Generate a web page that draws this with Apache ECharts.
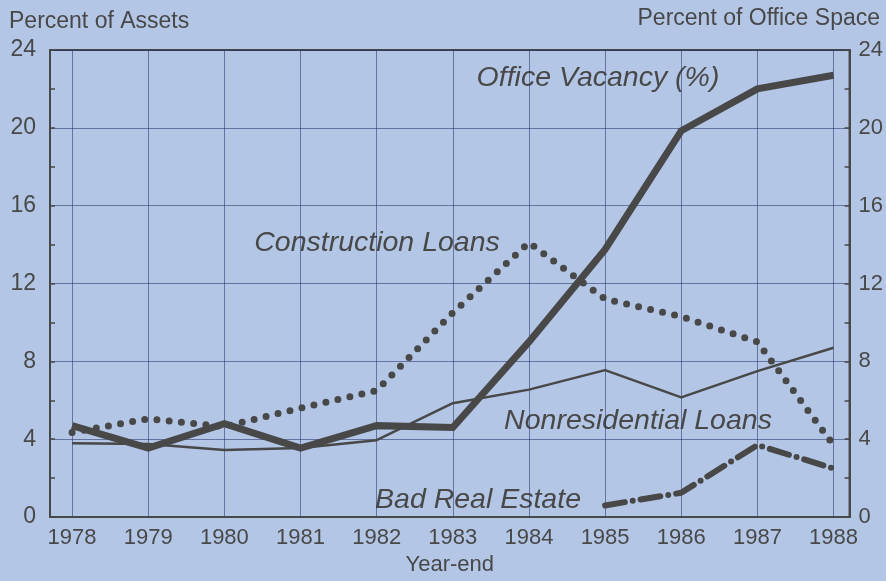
<!DOCTYPE html>
<html>
<head>
<meta charset="utf-8">
<script src="https://cdn.jsdelivr.net/npm/echarts@6/dist/echarts.min.js"></script>
<style>
html,body{margin:0;padding:0;background:#b3c6e5;}
#c{width:886px;height:581px;}
</style>
</head>
<body>
<div id="c"></div>
<script>
const years = [1978, 1979, 1980, 1981, 1982, 1983, 1984, 1985, 1986, 1987, 1988];
const officeVacancy = [4.7, 3.55, 4.8, 3.55, 4.7, 4.6, 9.0, 13.75, 19.85, 22.0, 22.7];
const constructionLoans = [4.35, 5.05, 4.65, 5.6, 6.5, 10.5, 14.1, 11.2, 10.3, 9.0, 3.7];
const nonresidentialLoans = [3.8, 3.75, 3.45, 3.55, 3.95, 5.85, 6.55, 7.55, 6.15, 7.5, 8.7];
const badRealEstate = [null, null, null, null, null, null, null, 0.6, 1.25, 3.7, 2.5];

const ink = '#484848';
const gridCol = 'rgba(35,50,105,0.55)';
const font = '"Liberation Sans", Arial, sans-serif';

function pairs(arr) {
  const out = [];
  years.forEach((y, i) => { if (arr[i] !== null) out.push([y, arr[i]]); });
  return out;
}

const chart = echarts.init(document.getElementById('c'));
chart.setOption({
  backgroundColor: '#b3c6e5',
  animation: false,
  grid: { left: 50, right: 36, top: 50, bottom: 58, show: true, borderColor: ink, borderWidth: 2, backgroundColor: 'transparent' },
  xAxis: {
    type: 'value', min: 1977.71, max: 1988.21,
    name: 'Year-end', nameLocation: 'middle', nameGap: 35,
    nameTextStyle: { color: ink, fontSize: 22, fontFamily: font },
    axisLine: { show: true, lineStyle: { color: ink, width: 2 } },
    axisTick: { show: false, customValues: years },
    axisLabel: { customValues: years, color: ink, fontSize: 22, fontFamily: font, margin: 10, formatter: v => String(v) },
    splitLine: { show: true, lineStyle: { color: gridCol, width: 1 } }
  },
  yAxis: [
    {
      type: 'value', min: 0, max: 24, interval: 4, position: 'left',
      axisLine: { show: true, lineStyle: { color: ink, width: 2 } },
      axisTick: { show: true, inside: true, length: 5, lineStyle: { color: ink, width: 1.5 } },
      minorTick: { show: true, splitNumber: 2, length: 5, lineStyle: { color: ink, width: 1.5 } },
      axisLabel: { color: ink, fontSize: 23, fontFamily: font, margin: 14 },
      splitLine: { show: true, lineStyle: { color: gridCol, width: 1 } }
    },
    {
      type: 'value', min: 0, max: 24, interval: 4, position: 'right',
      axisLine: { show: true, lineStyle: { color: ink, width: 2 } },
      axisTick: { show: true, inside: true, length: 5, lineStyle: { color: ink, width: 1.5 } },
      minorTick: { show: true, splitNumber: 2, length: 5, lineStyle: { color: ink, width: 1.5 } },
      axisLabel: { color: ink, fontSize: 22, fontFamily: font, margin: 9 },
      splitLine: { show: false }
    }
  ],
  series: [
    {
      name: 'Nonresidential Loans', type: 'line', data: pairs(nonresidentialLoans),
      symbol: 'none', lineStyle: { color: ink, width: 2.5 }, z: 2
    },
    {
      name: 'Construction Loans', type: 'line', data: pairs(constructionLoans),
      symbol: 'none', lineStyle: { color: ink, width: 7, type: [0, 12.3], cap: 'round' }, z: 3
    },
    {
      name: 'Bad Real Estate', type: 'line', data: pairs(badRealEstate),
      symbol: 'none', lineStyle: { color: ink, width: 6, type: [20, 8, 0, 8], cap: 'round' }, z: 3
    },
    {
      name: 'Office Vacancy (%)', type: 'line', yAxisIndex: 1, data: pairs(officeVacancy),
      symbol: 'none', lineStyle: { color: ink, width: 7, join: 'miter' }, z: 4
    }
  ],
  graphic: [
    { type: 'text', left: 9, top: 10, style: { text: 'Percent of Assets', fill: ink, font: '23px ' + font } },
    { type: 'text', right: 6, top: 7, style: { text: 'Percent of Office Space', fill: ink, font: '23px ' + font } },
    { type: 'text', x: 598, y: 78, style: { text: 'Office Vacancy (%)', fill: ink, font: 'italic 28.5px ' + font, align: 'center', verticalAlign: 'middle' } },
    { type: 'text', x: 377, y: 243, style: { text: 'Construction Loans', fill: ink, font: 'italic 28.5px ' + font, align: 'center', verticalAlign: 'middle' } },
    { type: 'text', x: 638, y: 421, style: { text: 'Nonresidential Loans', fill: ink, font: 'italic 28.5px ' + font, align: 'center', verticalAlign: 'middle' } },
    { type: 'text', x: 478, y: 500, style: { text: 'Bad Real Estate', fill: ink, font: 'italic 28.5px ' + font, align: 'center', verticalAlign: 'middle' } }
  ]
});
</script>
</body>
</html>
